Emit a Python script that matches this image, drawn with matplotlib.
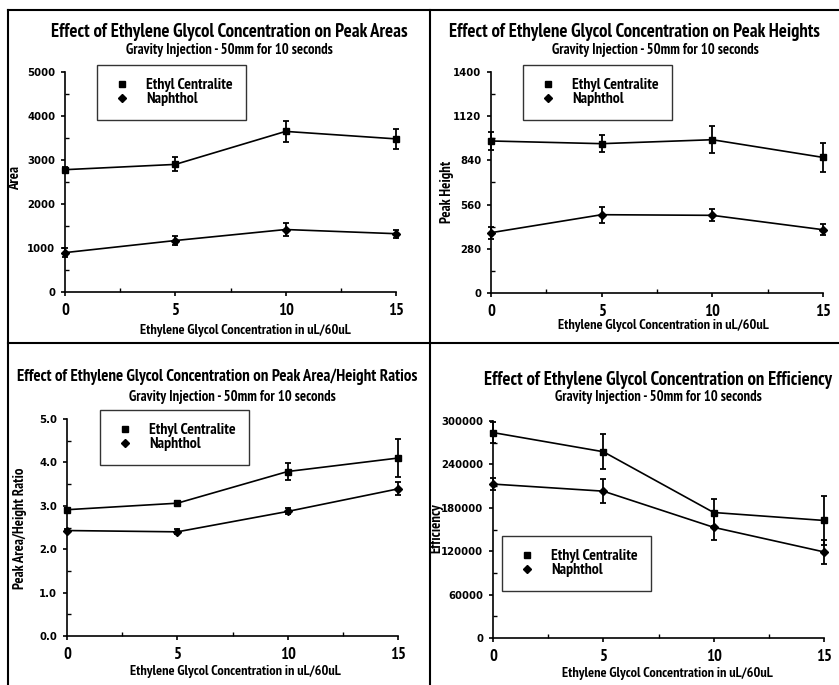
import matplotlib
matplotlib.use("Agg")
import matplotlib.pyplot as plt
from matplotlib.lines import Line2D
from matplotlib.ticker import MultipleLocator

# ---- data ----
conc = [0, 5, 10, 15]

area_ec = [2780, 2900, 3650, 3480]
area_ec_err = [60, 160, 240, 220]
area_na = [895, 1170, 1420, 1325]
area_na_err = [100, 95, 145, 90]

height_ec = [963, 946, 971, 859]
height_ec_err = [58, 55, 85, 94]
height_na = [382, 496, 492, 401]
height_na_err = [37, 50, 39, 36]

ratio_ec = [2.91, 3.06, 3.79, 4.10]
ratio_ec_err = [0.03, 0.05, 0.20, 0.43]
ratio_na = [2.43, 2.40, 2.87, 3.39]
ratio_na_err = [0.04, 0.06, 0.07, 0.15]

eff_ec = [284000, 257500, 173500, 162500]
eff_ec_err = [15000, 24000, 19000, 34000]
eff_na = [212800, 203000, 153000, 119000]
eff_na_err = [8000, 17000, 18000, 16500]

W, H = 839, 685
NARROW = ['PT Sans Narrow', 'DejaVu Sans']
WIDE = ['DejaVu Sans']

fig = plt.figure(figsize=(W / 100, H / 100), dpi=100)


def px_axes(x0, x1, ytop, ybot):
    # axes box given in pixel coords of the picture
    return fig.add_axes([x0 / W, 1 - ybot / H, (x1 - x0) / W, (ybot - ytop) / H])


def ftext(x, y, s, size, **kw):
    fig.text(x / W, 1 - y / H, s, ha='center', va='center', fontsize=size,
             fontweight='bold', family=NARROW, **kw)


def panel(box, ec, ec_err, na, na_err, ymax, ystep, yfmt, leg_xy, title, tsize, tpos, spos, xlpos, ylab, ylpos):
    ax = px_axes(*box)
    ax.errorbar(conc, ec, yerr=ec_err, color='black', lw=1.2, marker='s', ms=4.8,
                capsize=2, elinewidth=1.3, capthick=1.3, clip_on=False)
    ax.errorbar(conc, na, yerr=na_err, color='black', lw=1.2, marker='D', ms=4.3,
                capsize=2, elinewidth=1.3, capthick=1.3, clip_on=False)
    ax.set_xlim(0, 15)
    ax.set_ylim(0, ymax)
    ax.set_xticks(conc)
    ax.xaxis.set_minor_locator(MultipleLocator(2.5))
    ax.yaxis.set_major_locator(MultipleLocator(ystep))
    ax.yaxis.set_minor_locator(MultipleLocator(ystep / 2))
    ax.set_yticklabels([yfmt.format(v) for v in ax.get_yticks()])
    for s in ['top', 'right']:
        ax.spines[s].set_visible(False)
    for s in ['left', 'bottom']:
        ax.spines[s].set_linewidth(1.2)
    ax.tick_params(which='major', direction='out', length=3, width=1.2)
    ax.tick_params(which='minor', direction='in', length=3, width=1.0)
    ax.tick_params(axis='x', which='major', pad=5)
    ax.tick_params(axis='y', which='major', pad=4)
    for lab in ax.get_xticklabels():
        lab.set_family(NARROW)
        lab.set_fontsize(12)
        lab.set_fontweight('bold')
    for lab in ax.get_yticklabels():
        lab.set_family(WIDE)
        lab.set_fontsize(7.3)
        lab.set_fontweight('bold')

    handles = [Line2D([], [], color='black', marker='s', ls='none', ms=4.2),
               Line2D([], [], color='black', marker='D', ls='none', ms=3.8)]
    leg = ax.legend(handles, ['Ethyl Centralite', 'Naphthol'], loc='upper left',
                    bbox_to_anchor=(leg_xy[0] / W, 1 - leg_xy[1] / H),
                    bbox_transform=fig.transFigure, fancybox=False, frameon=True,
                    edgecolor='black', handletextpad=0.8, borderpad=0.85,
                    borderaxespad=0, labelspacing=0.0, handlelength=1.5,
                    prop={'family': NARROW, 'weight': 'bold', 'size': 11.3})
    leg.get_frame().set_linewidth(1.0)

    ftext(tpos[0], tpos[1], title, tsize)
    ftext(spos[0], spos[1], 'Gravity Injection - 50mm for 10 seconds', 10.5)
    ftext(xlpos[0], xlpos[1], 'Ethylene Glycol Concentration in uL/60uL', 10.3)
    ftext(ylpos[0], ylpos[1], ylab, 10.5, rotation=90)
    return ax


panel((65, 396, 72, 292), area_ec, area_ec_err, area_na, area_na_err,
      5000, 1000, '{:.0f}', (97, 65),
      'Effect of Ethylene Glycol Concentration on Peak Areas', 13.5, (229, 32), (229, 50),
      (245, 330), 'Area', (15, 178))

panel((491, 823, 72, 293), height_ec, height_ec_err, height_na, height_na_err,
      1400, 280, '{:.0f}', (523, 65),
      'Effect of Ethylene Glycol Concentration on Peak Heights', 13.5, (634, 32), (655, 50),
      (663, 326), 'Peak Height', (447, 192))

panel((67, 398, 419, 636), ratio_ec, ratio_ec_err, ratio_na, ratio_na_err,
      5.0, 1.0, '{:.1f}', (100, 410),
      'Effect of Ethylene Glycol Concentration on Peak Area/Height Ratios', 12.2, (217, 377), (232, 397),
      (235, 672), 'Peak Area/Height Ratio', (20, 528))

panel((493, 824, 421, 638), eff_ec, eff_ec_err, eff_na, eff_na_err,
      300000, 60000, '{:.0f}', (502, 536),
      'Effect of Ethylene Glycol Concentration on Efficiency', 13.5, (658, 380), (658, 397),
      (667, 673), 'Efficiency', (436, 528))

# panel frame lines of the scanned page
frame_lines = [((8, 839), (10, 10)), ((8, 8), (10, 685)), ((430, 430), (10, 685)),
               ((8, 839), (343, 343))]
for xs, ys in frame_lines:
    fig.add_artist(Line2D([x / W for x in xs], [1 - y / H for y in ys],
                          transform=fig.transFigure, color='black', lw=1.5))

fig.savefig('out.png', dpi=100)
